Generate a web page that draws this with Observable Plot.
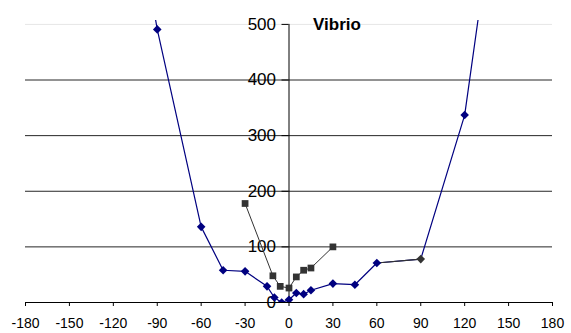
<!DOCTYPE html>
<html>
<head>
<meta charset="utf-8">
<script src="https://cdn.jsdelivr.net/npm/d3@7"></script>
<script src="https://cdn.jsdelivr.net/npm/@observablehq/plot@0.6"></script>
<style>
  html, body { margin: 0; padding: 0; background: #fff; }
  #chart svg { font-family: "Liberation Sans", Arial, sans-serif; display: block; }
</style>
</head>
<body>
<div id="chart"></div>
<script>
// Data
const title = "Vibrio";
const blueX = [-120, -90, -60, -45, -30, -15, -10, -5, 0, 5, 10, 15, 30, 45, 60, 90, 120, 150];
const blueY = [950, 491, 136, 58, 56, 29, 9, 0, 5, 17, 15, 22, 34, 32, 71, 78, 337, 900];
const blueGrayPoint = 90; // point drawn in dark gray (with its incoming segment)
const grayX = [-30, -11, -6, 0, 5, 10, 15, 30];
const grayY = [178, 48, 29, 26, 46, 58, 62, 100];
const xTicks = [-180, -150, -120, -90, -60, -30, 0, 30, 60, 90, 120, 150, 180];
const yTicks = [0, 100, 200, 300, 400, 500];
const gridLines = [100, 200, 300, 400];
const topGrid = [500];

const blue = blueX.map((x, i) => ({x, y: blueY[i]}));
const gray = grayX.map((x, i) => ({x, y: grayY[i]}));
const gi = blueX.indexOf(blueGrayPoint);
const graySeg = blue.slice(gi - 1, gi + 1);

const diamond = {
  draw(context, size) {
    const r = Math.sqrt(size / Math.PI);
    context.moveTo(0, -r);
    context.lineTo(r, 0);
    context.lineTo(0, r);
    context.lineTo(-r, 0);
    context.closePath();
  }
};

const NAVY = "#000080";
const DARK = "#333333";

const chart = Plot.plot({
  width: 571,
  height: 333,
  marginLeft: 25,
  marginRight: 19,
  marginTop: 20,
  marginBottom: 31,
  x: {domain: [-180, 180]},
  y: {domain: [0, 507], axis: null},
  style: {fontFamily: "Liberation Sans, Arial, sans-serif", background: "#fff", color: "#000"},
  marks: [
    Plot.ruleY(topGrid, {stroke: "#e6e6e6"}),
    Plot.ruleY(gridLines, {stroke: "#262626", strokeWidth: 1}),
    Plot.ruleY([0], {stroke: "#000"}),
    Plot.ruleX([0], {y1: 0, y2: 500, stroke: "#000"}),
    Plot.ruleY(yTicks, {x1: 0, x2: 0, insetLeft: -7, stroke: "#000"}),
    Plot.text(yTicks, {x: 0, y: d => d, text: d => String(d), textAnchor: "end", dx: -13, fontSize: 17, fill: "#000"}),
    Plot.axisX({ticks: xTicks, tickSize: 4, tickPadding: 12, tickFormat: d => String(d), fontSize: 14, stroke: "#000", fill: "#000", label: null}),
    Plot.line(blue, {x: "x", y: "y", stroke: NAVY, strokeWidth: 1.2, clip: true}),
    Plot.line(graySeg, {x: "x", y: "y", stroke: DARK, strokeWidth: 1.2, clip: true}),
    Plot.dot(blue, {x: "x", y: "y", symbol: diamond, r: 4.3, fill: d => d.x === blueGrayPoint ? DARK : NAVY, stroke: "none", clip: true}),
    Plot.line(gray, {x: "x", y: "y", stroke: DARK, strokeWidth: 1}),
    Plot.dot(gray, {x: "x", y: "y", symbol: "square", r: 3.8, fill: DARK, stroke: "none"}),
    Plot.text([title], {frameAnchor: "top", dx: 48, dy: 4, lineAnchor: "middle", fontSize: 17, fontWeight: "bold", fill: "#000"})
  ]
});
document.getElementById("chart").appendChild(chart);
</script>
</body>
</html>
